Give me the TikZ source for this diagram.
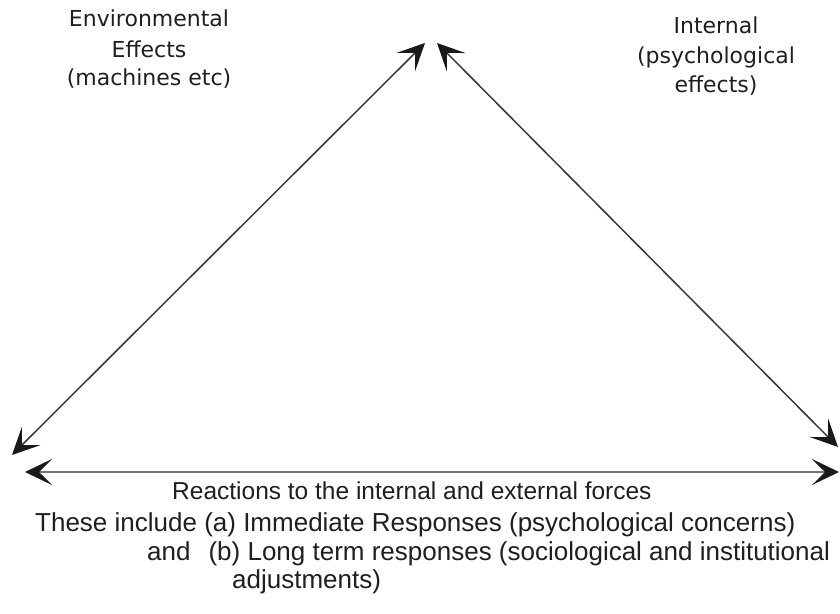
\documentclass[tikz,border=0pt]{standalone}
\usepackage{fontspec}
\setmainfont{Liberation Sans}
\newfontfamily\labelfont{DejaVu Sans}
\usetikzlibrary{arrows.meta}
\begin{document}
\begin{tikzpicture}[x=1pt,y=-1pt]
  \tikzset{
    barb/.tip={Stealth[length=27pt,width=26pt,inset=13pt,color=black!90]},
    twoway/.style={barb-barb, line width=1.5pt, draw=black!78},
    baseline/.style={barb-barb, line width=1.8pt, draw=black!55},
    cornerlabel/.style={font=\labelfont\fontsize{22}{29}\selectfont, text=black!88, anchor=base, inner sep=0pt},
    bodytext/.style={font=\fontsize{26}{30}\selectfont, text=black!88, anchor=base west, inner sep=0pt}
  }
  \useasboundingbox[fill=white] (0,0) rectangle (840,613);

  % corner points of the triangle
  \coordinate (apexL) at (425,43);
  \coordinate (apexR) at (437,43);
  \coordinate (baseL) at (12,455);
  \coordinate (baseR) at (838,447);
  \coordinate (lineL) at (25,472);
  \coordinate (lineR) at (839,472);

  % the three double-headed arrows
  \draw[twoway] (baseL) -- (apexL);
  \draw[twoway] (apexR) -- (baseR);
  \draw[baseline] (lineL) -- (lineR);

  % labels at the upper corners
  \node[cornerlabel] (env1) at (149,27) {Environmental};
  \node[cornerlabel] (env2) at (149,57) {Effects};
  \node[cornerlabel] (env3) at (149,85) {(machines etc)};
  \node[cornerlabel] (int1) at (716,33) {Internal};
  \node[cornerlabel] (int2) at (716,63) {(psychological};
  \node[cornerlabel] (int3) at (716,92) {effects)};

  % text under the base
  \node[bodytext, font=\fontsize{24.5}{30}\selectfont] (react) at (172,499) {Reactions to the internal and external forces};
  \node[bodytext] (incl) at (35,531) {These include (a) Immediate Responses (psychological concerns)};
  \node[bodytext] (longterm) at (147,560) {and\hspace*{18pt}(b) Long term responses (sociological and institutional};
  \node[bodytext] (adjust) at (232,588) {adjustments)};
\end{tikzpicture}
\end{document}
